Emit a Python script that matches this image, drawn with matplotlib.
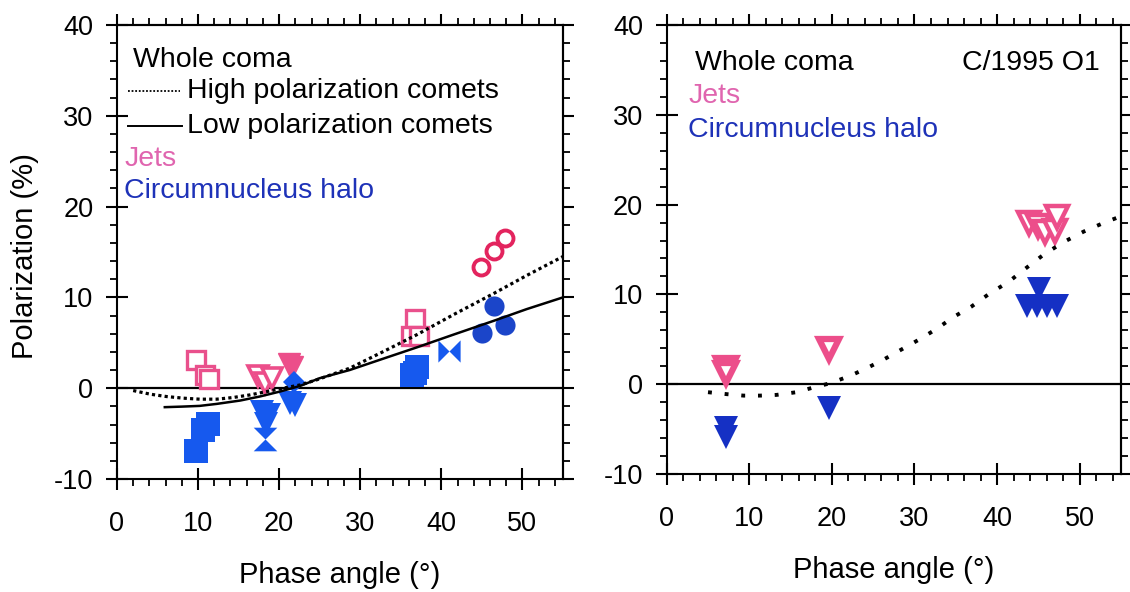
import matplotlib
matplotlib.use('Agg')
import matplotlib.pyplot as plt
from matplotlib.path import Path
from matplotlib.ticker import MultipleLocator

plt.rcParams['font.family'] = ['Liberation Sans', 'DejaVu Sans']
plt.rcParams['axes.unicode_minus'] = False

# ---------------- data ----------------
# Left panel: whole-coma reference curves
high_pol_x = [2.0, 4.1, 6.1, 8.2, 10.2, 12.3, 14.3, 16.4, 18.5, 20.5, 22.6, 24.6,
              28.7, 33.0, 37.0, 41.5, 46.4, 50.5, 55.0]
high_pol_y = [-0.26, -0.66, -0.92, -1.10, -1.21, -1.21, -1.03, -0.74, -0.37, 0.0,
              0.36, 0.91, 2.2, 4.1, 5.9, 8.1, 10.4, 12.4, 14.5]
low_pol_x = [5.9, 8.0, 10.2, 12.3, 15.2, 17.6, 20.1, 22.6, 25.0, 28.7, 33.0, 37.0,
             41.5, 46.4, 50.5, 55.0]
low_pol_y = [-2.09, -2.03, -1.95, -1.73, -1.36, -0.92, -0.37, 0.25, 1.1, 2.0, 3.3,
             4.5, 5.9, 7.4, 8.7, 10.0]

# Left panel: jets (pink)
jet_sq_x = [9.8, 10.8, 11.3, 36.7, 36.2, 37.2]
jet_sq_y = [3.1, 1.4, 1.0, 7.6, 5.7, 5.7]
jet_tri_x = [17.4, 18.2, 19.1]
jet_tri_y = [1.3, 0.6, 1.1]
jet_ftri_x = [21.2, 21.6]
jet_ftri_y = [2.7, 2.3]
jet_circ_x = [44.9, 46.5, 47.9]
jet_circ_y = [13.3, 15.1, 16.5]

# Left panel: circumnucleus halo (blue)
halo_sq_x = [11.2, 10.6, 9.8, 36.4, 37.0, 36.8]
halo_sq_y = [-3.9, -4.6, -6.9, 1.5, 2.3, 1.7]
halo_tri_x = [17.9, 18.8, 18.4, 21.4, 22.0]
halo_tri_y = [-2.6, -3.0, -3.9, -1.6, -1.9]
halo_hg_x = [18.3]
halo_hg_y = [-5.6]
halo_dia_x = [21.8]
halo_dia_y = [0.7]
halo_bow_x = [41.0]
halo_bow_y = [4.1]
halo_circ_x = [46.5, 45.0, 47.8]
halo_circ_y = [9.1, 6.1, 7.0]

# Right panel: C/1995 O1
hb_curve_x = [5.0, 7.3, 9.3, 11.3, 13.3, 15.7, 17.7, 19.8, 22.2, 24.2, 26.2, 28.2,
              30.5, 32.7, 34.7, 36.9, 39.1, 41.4, 43.4, 45.6, 48.0, 50.5, 53.0, 55.0]
hb_curve_y = [-0.89, -1.11, -1.27, -1.27, -1.19, -0.89, -0.38, 0.11, 0.93, 1.78,
              2.71, 3.75, 4.94, 6.17, 7.47, 8.65, 10.1, 11.4, 12.85, 14.4, 15.8,
              17.0, 18.0, 18.7]
hb_jet_low_x = [7.2, 7.2, 19.6]
hb_jet_low_y = [1.8, 1.3, 3.9]
hb_jet_high_x = [43.9, 45.0, 45.8, 47.0, 47.3]
hb_jet_high_y = [18.0, 17.6, 17.0, 17.1, 18.6]
hb_halo_x = [7.2, 7.2, 19.6, 45.1, 43.6, 44.8, 46.0, 47.2]
hb_halo_y = [-4.9, -5.9, -2.6, 10.6, 8.7, 8.7, 8.7, 8.7]

x_ticks = [0, 10, 20, 30, 40, 50]
y_ticks = [-10, 0, 10, 20, 30, 40]

# ---------------- styles ----------------
PINK_SQ = '#E9508C'
PINK_CI = '#E3245E'
PINK_TR = '#EC4E8A'
BLUE_SQ = '#1659EE'
BLUE_CI = '#1B45C9'
BLUE_R = '#1530C4'
JETS_TXT = '#E065AF'
HALO_TXT = '#1E32B8'
FS_TXT = 20.5
FS_TICK = 19.5
FS_LAB = 21

bowtie = Path([(-1, -1), (-1, 1), (0, 0), (1, 1), (1, -1), (0, 0), (-1, -1)],
              [Path.MOVETO, Path.LINETO, Path.LINETO, Path.LINETO, Path.LINETO,
               Path.LINETO, Path.CLOSEPOLY])
hourglass = Path([(-1, 1), (1, 1), (0, 0), (1, -1), (-1, -1), (0, 0), (-1, 1)],
                 [Path.MOVETO, Path.LINETO, Path.LINETO, Path.LINETO, Path.LINETO,
                  Path.LINETO, Path.CLOSEPOLY])

fig = plt.figure(figsize=(11.3, 5.92), dpi=100)
axL = fig.add_axes([0.1035, 0.1909, 0.3947, 0.7669])
axR = fig.add_axes([0.590, 0.1993, 0.402, 0.7585])


def style_axes(ax):
    ax.set_xlim(0, 55)
    ax.set_ylim(-10, 40)
    ax.set_xticks(x_ticks)
    ax.set_yticks(y_ticks)
    ax.xaxis.set_minor_locator(MultipleLocator(2))
    ax.yaxis.set_minor_locator(MultipleLocator(2))
    for s in ax.spines.values():
        s.set_linewidth(1.5)
    ax.tick_params(which='major', direction='inout', length=16, width=1.5,
                   labelsize=FS_TICK, top=False, right=False)
    ax.tick_params(axis='x', which='major', pad=15)
    ax.tick_params(axis='y', which='major', pad=9)
    ax.tick_params(which='minor', direction='out', length=5, width=1.3,
                   top=False, right=False)
    sx = ax.secondary_xaxis('top')
    sx.set_xticks(x_ticks)
    sx.xaxis.set_minor_locator(MultipleLocator(2))
    sx.tick_params(which='major', direction='out', length=8, width=1.5, labeltop=False)
    sx.tick_params(which='minor', direction='out', length=5, width=1.3)
    sx.spines['top'].set_linewidth(1.5)
    sy = ax.secondary_yaxis('right')
    sy.set_yticks(y_ticks)
    sy.yaxis.set_minor_locator(MultipleLocator(2))
    sy.tick_params(which='major', direction='out', length=8, width=1.5, labelright=False)
    sy.tick_params(which='minor', direction='out', length=5, width=1.3)
    sy.spines['right'].set_linewidth(1.5)
    ax.axhline(0, color='black', lw=1.6, zorder=1)
    ax.set_xlabel('Phase angle (°)', fontsize=FS_LAB, labelpad=17)


style_axes(axL)
style_axes(axR)
axL.set_ylabel('Polarization (%)', fontsize=FS_LAB)
axL.yaxis.set_label_coords(-0.175, 0.49)

# ---------------- left panel ----------------
axL.plot(high_pol_x, high_pol_y, color='black', lw=2.3, ls=(0, (1, 1)), zorder=4)
axL.plot(low_pol_x, low_pol_y, color='black', lw=1.8, ls='-', zorder=4)

axL.plot(jet_sq_x, jet_sq_y, ls='none', marker='s', ms=13, mfc='white', mec=PINK_SQ,
         mew=2.4, zorder=3)
axL.plot(jet_tri_x, jet_tri_y, ls='none', marker='v', ms=15, mfc='white', mec=PINK_TR,
         mew=2.6, zorder=3)
axL.plot(jet_ftri_x, jet_ftri_y, ls='none', marker='v', ms=16, mfc=PINK_TR, mec=PINK_TR,
         zorder=3)
axL.plot(jet_circ_x, jet_circ_y, ls='none', marker='o', ms=11.5, mfc='white',
         mec=PINK_CI, mew=2.8, zorder=3)

axL.plot(halo_sq_x, halo_sq_y, ls='none', marker='s', ms=17, mfc=BLUE_SQ, mec=BLUE_SQ,
         mew=0, zorder=3)
axL.plot(halo_tri_x, halo_tri_y, ls='none', marker='v', ms=17, mfc=BLUE_SQ, mec=BLUE_SQ,
         mew=0, zorder=3)
axL.plot(halo_hg_x, halo_hg_y, ls='none', marker=hourglass, ms=17, mfc=BLUE_SQ,
         mec=BLUE_SQ, mew=0, zorder=3)
axL.plot(halo_dia_x, halo_dia_y, ls='none', marker='D', ms=11, mfc=BLUE_SQ, mec=BLUE_SQ,
         mew=0, zorder=3)
axL.plot(halo_bow_x, halo_bow_y, ls='none', marker=bowtie, ms=16, mfc=BLUE_SQ,
         mec=BLUE_SQ, mew=0, zorder=3)
axL.plot(halo_circ_x, halo_circ_y, ls='none', marker='o', ms=14.5, mfc=BLUE_CI,
         mec=BLUE_CI, mew=0, zorder=3)

# legend-like annotations (left)
T = axL.transAxes
axL.text(0.036, 0.923, 'Whole coma', transform=T, fontsize=FS_TXT, va='center', ha='left')
axL.plot([0.025, 0.141], [0.855, 0.855], transform=T, color='black', lw=1.3,
         ls=(0, (1, 1)))
axL.text(0.157, 0.855, 'High polarization comets', transform=T, fontsize=FS_TXT,
         va='center', ha='left')
axL.plot([0.025, 0.146], [0.777, 0.777], transform=T, color='black', lw=1.4, ls='-')
axL.text(0.157, 0.777, 'Low polarization comets', transform=T, fontsize=FS_TXT,
         va='center', ha='left')
axL.text(0.016, 0.705, 'Jets', transform=T, fontsize=FS_TXT, va='center', ha='left',
         color=JETS_TXT)
axL.text(0.016, 0.634, 'Circumnucleus halo', transform=T, fontsize=FS_TXT, va='center',
         ha='left', color=HALO_TXT)

# ---------------- right panel ----------------
axR.plot(hb_curve_x, hb_curve_y, color='black', lw=2.8, ls=(0, (1, 3.3)), zorder=4)
axR.plot(hb_jet_low_x, hb_jet_low_y, ls='none', marker='v', ms=15, mfc='white',
         mec=PINK_TR, mew=4.5, zorder=3)
axR.plot(hb_jet_high_x, hb_jet_high_y, ls='none', marker='v', ms=16, mfc='white',
         mec=PINK_TR, mew=3.2, zorder=3)
axR.plot(hb_halo_x, hb_halo_y, ls='none', marker='v', ms=17, mfc=BLUE_R, mec=BLUE_R,
         mew=0, zorder=3)

T = axR.transAxes
axR.text(0.062, 0.915, 'Whole coma', transform=T, fontsize=FS_TXT, va='center', ha='left')
axR.text(0.954, 0.915, 'C/1995 O1', transform=T, fontsize=FS_TXT, va='center', ha='right')
axR.text(0.047, 0.842, 'Jets', transform=T, fontsize=FS_TXT, va='center', ha='left',
         color=JETS_TXT)
axR.text(0.047, 0.766, 'Circumnucleus halo', transform=T, fontsize=FS_TXT, va='center',
         ha='left', color=HALO_TXT)

fig.savefig('out.png', dpi=100)
